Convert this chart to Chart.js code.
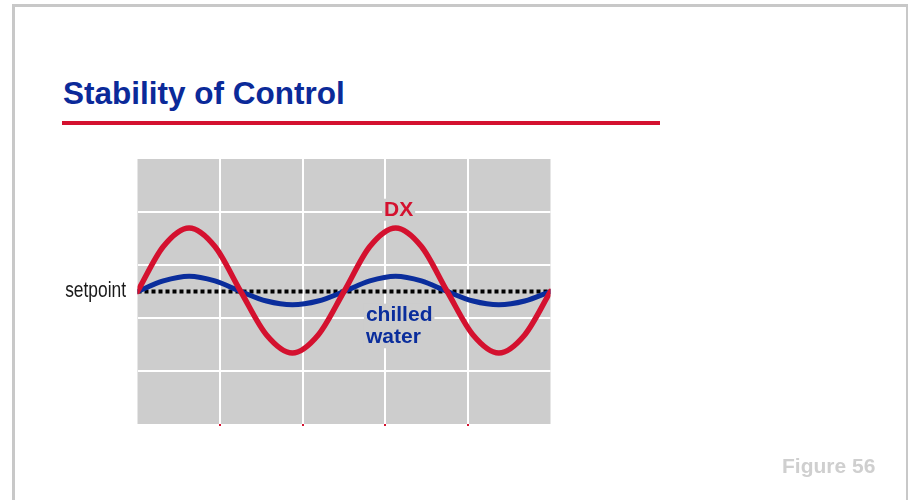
<!DOCTYPE html>
<html>
<head>
<meta charset="utf-8">
<script src="https://cdn.jsdelivr.net/npm/chart.js@4"></script>
<style>
  html, body { margin: 0; padding: 0; background: #fff; width: 908px; height: 500px; overflow: hidden;
    font-family: "Liberation Sans", Arial, sans-serif; }
  #frame { position: absolute; left: 12px; top: 4px; right: 0; bottom: 0; box-sizing: border-box;
    border-top: 3px solid #c8c8c8; border-left: 3px solid #c8c8c8; border-right: 2px solid #c8c8c8; }
  #title { position: absolute; left: 63px; top: 78px; font-weight: bold; font-size: 31.5px; line-height: 31.5px;
    color: #0b2a99; white-space: nowrap; }
  #rule { position: absolute; left: 62px; top: 121px; width: 598px; height: 4px; background: #d4112f; }
  #wrap { position: absolute; left: 0; top: 0; width: 908px; height: 500px; }
  #fig { position: absolute; left: 782px; top: 455px; font-weight: bold; font-size: 21px; line-height: 21px;
    color: #cfcfcf; white-space: nowrap; }
</style>
</head>
<body>
<div id="frame"></div>
<div id="title">Stability of Control</div>
<div id="rule"></div>
<div id="wrap"><canvas id="c" width="908" height="500"></canvas></div>
<div id="fig">Figure 56</div>
<script>
// Time samples, eight per oscillation period (two periods shown)
const time = [0, 1, 2, 3, 4, 5, 6, 7, 8, 9, 10, 11, 12, 13, 14, 15, 16];
// Deviation from setpoint for each system
const dxResponse = [0, 0.85, 1.2, 0.85, 0, -0.82, -1.16, -0.82, 0, 0.85, 1.2, 0.85, 0, -0.82, -1.16, -0.82, 0];
const chilledWaterResponse = [0, 0.2, 0.29, 0.2, 0, -0.18, -0.25, -0.18, 0, 0.2, 0.29, 0.2, 0, -0.18, -0.25, -0.18, 0];
// Setpoint reference line
const setpointTime = [0, 16];
const setpointValue = [0, 0];
// Grid divisions
const xGrid = [0, 3.2, 6.4, 9.6, 12.8, 16];
const yGrid = [-2.5, -1.5, -0.5, 0.5, 1.5, 2.5];

const RED = '#d4112f';
const BLUE = '#0a2d9c';
const PLOT_BG = '#cdcdcd';

const toPoints = (xs, ys) => xs.map((x, i) => ({ x: x, y: ys[i] }));

const plotDecor = {
  id: 'plotDecor',
  beforeDraw(chart) {
    const { ctx, chartArea: a } = chart;
    ctx.save();
    ctx.fillStyle = PLOT_BG;
    ctx.fillRect(a.left, a.top, a.right - a.left, a.bottom - a.top);
    ctx.restore();
  },
  afterDatasetsDraw(chart) {
    const { ctx, scales: { x, y }, chartArea: a } = chart;
    ctx.save();
    // boxed labels inside the plot
    const boxed = (lines, xv, yv, color) => {
      ctx.font = 'bold 21px "Liberation Sans", Arial, sans-serif';
      const px = x.getPixelForValue(xv);
      const py = y.getPixelForValue(yv);
      const lh = 22.6;
      const w = Math.max(...lines.map(l => ctx.measureText(l).width));
      ctx.fillStyle = PLOT_BG;
      ctx.fillRect(px - 2, py - 17, w + 4, lh * (lines.length - 1) + 22);
      ctx.fillStyle = color;
      ctx.textAlign = 'left';
      ctx.textBaseline = 'alphabetic';
      lines.forEach((l, i) => ctx.fillText(l, px, py + i * lh));
    };
    boxed(['DX'], 9.55, 1.43, RED);
    boxed(['chilled', 'water'], 8.85, -0.55, BLUE);

    // setpoint caption to the left of the plot, condensed
    const sx = 0.79;
    ctx.font = '22px "Liberation Sans", Arial, sans-serif';
    ctx.fillStyle = '#1a1a1a';
    ctx.textAlign = 'right';
    ctx.textBaseline = 'alphabetic';
    ctx.scale(sx, 1);
    ctx.fillText('setpoint', (a.left - 11.5) / sx, y.getPixelForValue(0) + 5.2);
    ctx.restore();
  }
};

new Chart(document.getElementById('c'), {
  type: 'line',
  data: {
    datasets: [
      {
        label: 'DX',
        data: toPoints(time, dxResponse),
        borderColor: RED,
        borderWidth: 5.5,
        borderCapStyle: 'round',
        cubicInterpolationMode: 'monotone',
        pointRadius: 0,
        fill: false
      },
      {
        label: 'chilled water',
        data: toPoints(time, chilledWaterResponse),
        borderColor: BLUE,
        borderWidth: 5,
        borderCapStyle: 'round',
        cubicInterpolationMode: 'monotone',
        pointRadius: 0,
        fill: false
      },
      {
        label: 'setpoint',
        data: toPoints(setpointTime, setpointValue),
        borderColor: '#000',
        borderWidth: 4,
        borderDash: [4, 3],
        borderCapStyle: 'butt',
        pointRadius: 0,
        fill: false
      }
    ]
  },
  options: {
    responsive: false,
    animation: false,
    devicePixelRatio: 1,
    layout: { padding: { left: 137.5, right: 357.5, top: 159, bottom: 74 } },
    plugins: { legend: { display: false }, tooltip: { enabled: false } },
    scales: {
      x: {
        type: 'linear',
        min: 0, max: 16,
        afterBuildTicks: s => { s.ticks = xGrid.map(v => ({ value: v })); },
        ticks: { display: false },
        border: { display: false },
        grid: {
          lineWidth: 2,
          color: c => (c.index === 0 || c.index === xGrid.length - 1) ? 'rgba(0,0,0,0)' : '#ffffff',
          drawTicks: true,
          tickLength: 2,
          tickWidth: 2,
          tickColor: c => (c.index === 0 || c.index === xGrid.length - 1) ? 'rgba(0,0,0,0)' : RED
        }
      },
      y: {
        type: 'linear',
        min: -2.5, max: 2.5,
        afterBuildTicks: s => { s.ticks = yGrid.map(v => ({ value: v })); },
        ticks: { display: false },
        border: { display: false },
        grid: {
          lineWidth: 2,
          color: c => (c.index === 0 || c.index === yGrid.length - 1) ? 'rgba(0,0,0,0)' : '#ffffff',
          drawTicks: false
        }
      }
    }
  },
  plugins: [plotDecor]
});
</script>
</body>
</html>
